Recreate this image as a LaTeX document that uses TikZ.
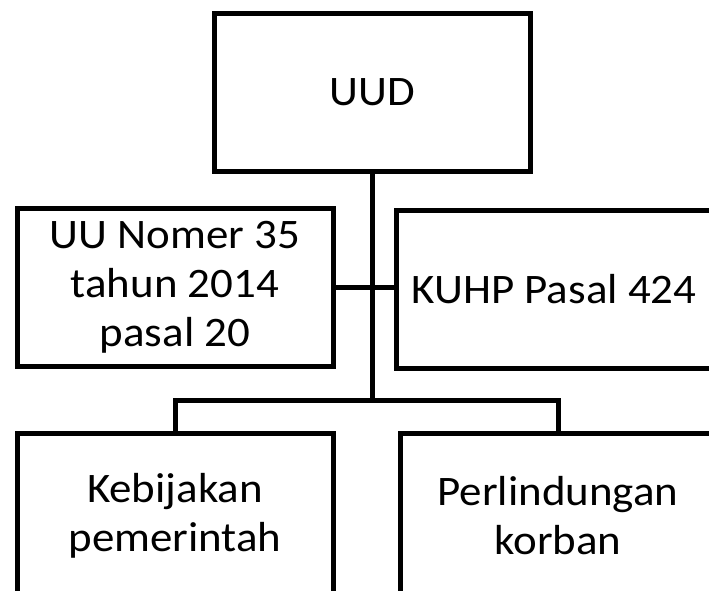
\documentclass[tikz,border=0pt]{standalone}
\usepackage{fontspec}
\setmainfont{Carlito}[FakeStretch=1.07]
\usetikzlibrary{positioning}

\tikzset{
  box/.style={draw, line width=5pt, minimum width=316pt, minimum height=158pt,
    align=center, inner sep=0pt, font=\fontsize{42}{49}\selectfont},
  link/.style={line width=5pt}
}

\begin{document}
\begin{tikzpicture}[x=1pt,y=-1pt]
  \useasboundingbox (0,0) rectangle (709,590);
  \clip (0,0) rectangle (709,590);
  \fill[white] (0,0) rectangle (709,590);

  % Boxes
  \node[box] (uud) at (372,92) {UUD};
  \node[box] (uu) at (175,287.5) {UU Nomer 35\\tahun 2014\\pasal 20};
  \node[box] (kuhp) at (554,289) {KUHP Pasal 424};
  \node[box, minimum height=165pt] (bijak) at (175,516) {Kebijakan\\pemerintah};
  \node[box, minimum height=165pt] (korban) at (558,516) {Perlindungan\\korban};

  % Connectors
  \coordinate (fork) at (372,400);
  \draw[link] (uud.south) -- (fork);
  \draw[link] (uu.east) -- (uu.east -| kuhp.west);
  \draw[link] (bijak.north) |- (fork) -| (korban.north);
\end{tikzpicture}
\end{document}
